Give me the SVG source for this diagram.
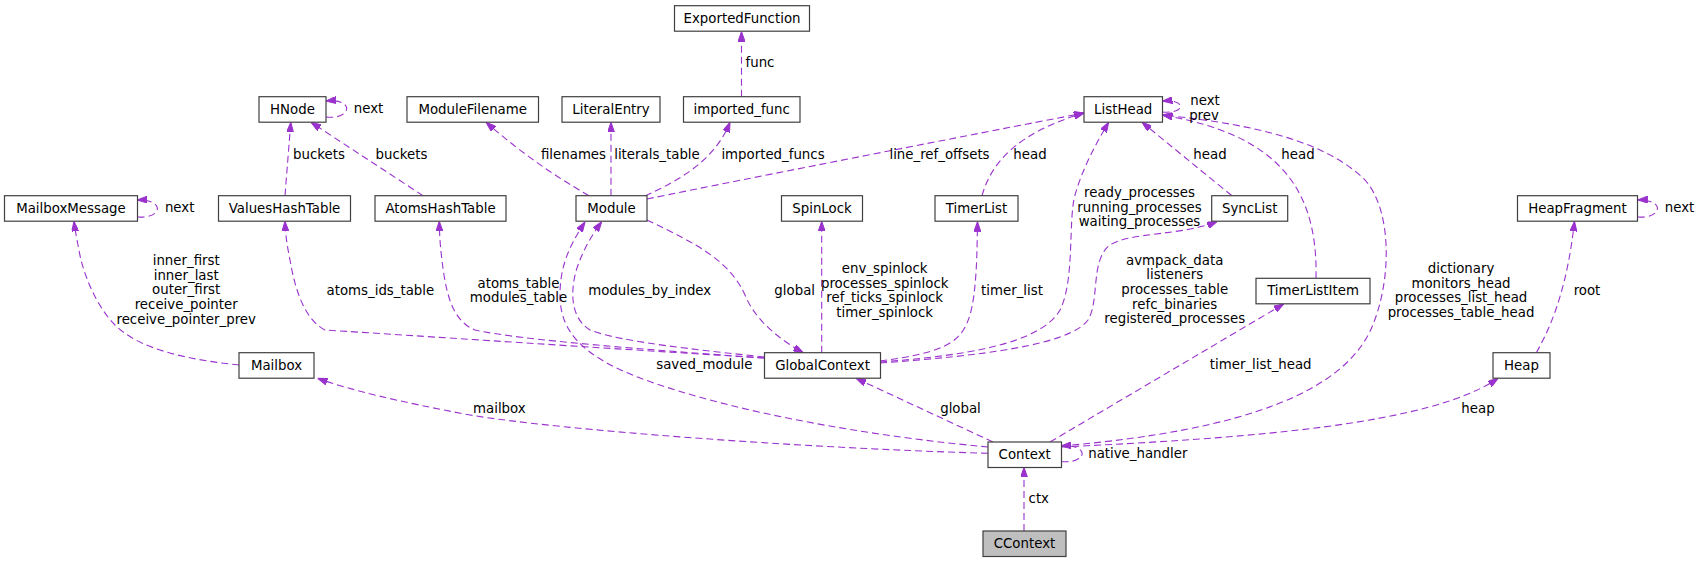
<svg xmlns="http://www.w3.org/2000/svg" width="1699" height="563" viewBox="0 0 1699 563">
<style>
.n rect{fill:#ffffff;stroke:#404040;stroke-width:1.2}
.n text,.l{font-family:"DejaVu Sans",sans-serif;font-size:13.33px;fill:#000;text-anchor:middle}
.e path{fill:none;stroke:#9a32cd;stroke-width:1.1;stroke-dasharray:7,4;marker-end:url(#ah)}
</style>
<defs>
<marker id="ah" viewBox="0 0 10 7" refX="10" refY="3.5" markerWidth="10" markerHeight="7" markerUnits="userSpaceOnUse" orient="auto">
<path d="M0,0 L10,3.5 L0,7 z" fill="#9a32cd" stroke="#9a32cd" stroke-width="1"/>
</marker>
</defs>
<rect width="1699" height="563" fill="#ffffff"/>
<g id="connectors" class="e">
<path d="M741.5,96.7 L741.5,31.5"/>
<path d="M326,117 C352,120 355,98 326,101"/>
<path d="M285,195.7 C287,170 289,145 290.8,122.3"/>
<path d="M423,195.7 L311,122.3"/>
<path d="M589,195.7 Q535,165 486,122.3"/>
<path d="M611,195.7 L611,122.3"/>
<path d="M645,196 C680,180 715,160 730,122.3"/>
<path d="M647,199 C760,176 970,135 1084,113"/>
<path d="M982,195.7 C992,160 1020,132 1084,113"/>
<path d="M1162.5,112 C1186,114 1187,99 1162.5,101"/>
<path d="M1232,195.7 C1200,170 1170,145 1142,122.3"/>
<path d="M1316,278.3 C1318,190 1280,135 1162.5,115"/>
<path d="M1061,446 C1250,430 1345,390 1372,327 C1392,280 1392,210 1365,180 C1320,135 1230,122 1162.5,115"/>
<path d="M880,362 C960,356 1040,345 1060,310 C1075,280 1068,220 1075,195 C1082,170 1095,145 1108.7,122.3"/>
<path d="M880,363 C980,356 1070,345 1088,320 C1100,300 1090,260 1110,245 C1130,232 1180,236 1217,221.7"/>
<path d="M880,361 C950,352 962,340 970,315 C977,290 977,250 977.5,221.7"/>
<path d="M821.7,352.7 L821.7,221.3"/>
<path d="M646.7,220 C700,245 730,262 745,295 C755,320 780,340 803.3,352.7"/>
<path d="M764.3,357 C700,350 620,342 590,330 C570,318 570,290 577,268 C583,250 592,235 601.7,221.7"/>
<path d="M988,447 C880,437 740,415 640,378 C580,355 560,330 560,295 C560,265 570,245 585,222"/>
<path d="M764.3,358 C650,350 520,340 475,330 C455,322 448,300 444,275 C441,255 439.5,240 439.3,221.3"/>
<path d="M764.3,358 C600,348 420,336 325,330 C305,320 295,290 290,260 C287,245 285.5,235 285,221.3"/>
<path d="M239.2,365 C190,360 140,350 115,325 C95,305 82,270 79,250 C77,240 75,230 74,221.3"/>
<path d="M137.4,217 C163,219 165,199 137.4,200"/>
<path d="M988,453.3 C800,448 560,430 470,415 C400,402 350,390 317.6,378.3"/>
<path d="M993,442 L856,378.3"/>
<path d="M1050,442 L1283.7,304"/>
<path d="M1061,447 C1250,438 1430,425 1498,378.3"/>
<path d="M1536.3,352.7 C1555,320 1568,280 1574.5,221.3"/>
<path d="M1637.7,217 C1663,219 1665,199 1637.7,200"/>
<path d="M1061.3,461.5 C1088,464 1090,444 1061.3,446"/>
<path d="M1024,531 L1024,467.3"/>
<text class="l" x="760" y="67">func</text>
<text class="l" x="368.5" y="113">next</text>
<text class="l" x="319" y="159">buckets</text>
<text class="l" x="401.5" y="159">buckets</text>
<text class="l" x="573.5" y="159">filenames</text>
<text class="l" x="657" y="159">literals_table</text>
<text class="l" x="773" y="159">imported_funcs</text>
<text class="l" x="939.5" y="159">line_ref_offsets</text>
<text class="l" x="1030" y="159">head</text>
<text class="l" x="1210" y="159">head</text>
<text class="l" x="1298" y="159">head</text>
<text class="l" x="1205" y="105">next</text>
<text class="l" x="1204" y="120">prev</text>
<text class="l" x="179.7" y="212">next</text>
<text class="l" x="1679.5" y="212">next</text>
<text class="l" x="1139.5" y="197"><tspan x="1139.5" y="197">ready_processes</tspan><tspan x="1139.5" y="211.7">running_processes</tspan><tspan x="1139.5" y="226.3">waiting_processes</tspan></text>
<text class="l" x="1174.7" y="264.5"><tspan x="1174.7" y="264.5">avmpack_data</tspan><tspan x="1174.7" y="279.2">listeners</tspan><tspan x="1174.7" y="293.8">processes_table</tspan><tspan x="1174.7" y="308.5">refc_binaries</tspan><tspan x="1174.7" y="323.2">registered_processes</tspan></text>
<text class="l" x="1461" y="273"><tspan x="1461" y="273">dictionary</tspan><tspan x="1461" y="287.7">monitors_head</tspan><tspan x="1461" y="302.3">processes_list_head</tspan><tspan x="1461" y="317">processes_table_head</tspan></text>
<text class="l" x="884.7" y="273"><tspan x="884.7" y="273">env_spinlock</tspan><tspan x="884.7" y="287.7">processes_spinlock</tspan><tspan x="884.7" y="302.3">ref_ticks_spinlock</tspan><tspan x="884.7" y="317">timer_spinlock</tspan></text>
<text class="l" x="186.2" y="265"><tspan x="186.2" y="265">inner_first</tspan><tspan x="186.2" y="279.7">inner_last</tspan><tspan x="186.2" y="294.3">outer_first</tspan><tspan x="186.2" y="309">receive_pointer</tspan><tspan x="186.2" y="323.7">receive_pointer_prev</tspan></text>
<text class="l" x="380.4" y="295">atoms_ids_table</text>
<text class="l" x="518.5" y="287.5"><tspan x="518.5" y="287.5">atoms_table</tspan><tspan x="518.5" y="302.2">modules_table</tspan></text>
<text class="l" x="649.7" y="294.5">modules_by_index</text>
<text class="l" x="794.7" y="294.5">global</text>
<text class="l" x="1012" y="295">timer_list</text>
<text class="l" x="1587" y="295">root</text>
<text class="l" x="704.4" y="369">saved_module</text>
<text class="l" x="1260.7" y="369">timer_list_head</text>
<text class="l" x="499.4" y="413">mailbox</text>
<text class="l" x="960.5" y="413">global</text>
<text class="l" x="1478" y="413">heap</text>
<text class="l" x="1137.8" y="458">native_handler</text>
<text class="l" x="1038.8" y="503">ctx</text>
</g>
<g id="ExportedFunction" class="n"><rect x="674.5" y="5.7" width="135" height="25.5"/><text x="742" y="22.7">ExportedFunction</text></g>
<g id="HNode" class="n"><rect x="259" y="96.7" width="67" height="25.5"/><text x="292.5" y="113.7">HNode</text></g>
<g id="ModuleFilename" class="n"><rect x="407" y="96.7" width="131.5" height="25.5"/><text x="472.7" y="113.7">ModuleFilename</text></g>
<g id="LiteralEntry" class="n"><rect x="562" y="96.7" width="98" height="25.5"/><text x="611" y="113.7">LiteralEntry</text></g>
<g id="imported_func" class="n"><rect x="683.5" y="96.7" width="116.5" height="25.5"/><text x="741.7" y="113.7">imported_func</text></g>
<g id="ListHead" class="n"><rect x="1084" y="96.7" width="78.5" height="25.5"/><text x="1123.2" y="113.7">ListHead</text></g>
<g id="MailboxMessage" class="n"><rect x="4.5" y="195.7" width="133" height="25.5"/><text x="71" y="212.7">MailboxMessage</text></g>
<g id="ValuesHashTable" class="n"><rect x="218.5" y="195.7" width="132" height="25.5"/><text x="284.5" y="212.7">ValuesHashTable</text></g>
<g id="AtomsHashTable" class="n"><rect x="375" y="195.7" width="131" height="25.5"/><text x="440.5" y="212.7">AtomsHashTable</text></g>
<g id="Module" class="n"><rect x="576" y="195.7" width="71" height="25.5"/><text x="611.5" y="212.7">Module</text></g>
<g id="SpinLock" class="n"><rect x="781.5" y="195.7" width="81" height="25.5"/><text x="822" y="212.7">SpinLock</text></g>
<g id="TimerList" class="n"><rect x="935" y="195.7" width="83" height="25.5"/><text x="976.5" y="212.7">TimerList</text></g>
<g id="SyncList" class="n"><rect x="1211.7" y="195.7" width="76" height="25.5"/><text x="1249.7" y="212.7">SyncList</text></g>
<g id="HeapFragment" class="n"><rect x="1517.5" y="195.7" width="120" height="25.5"/><text x="1577.5" y="212.7">HeapFragment</text></g>
<g id="TimerListItem" class="n"><rect x="1256" y="278.3" width="114" height="25.5"/><text x="1313" y="295.3">TimerListItem</text></g>
<g id="Mailbox" class="n"><rect x="239" y="352.7" width="75" height="25.5"/><text x="276.5" y="369.7">Mailbox</text></g>
<g id="GlobalContext" class="n"><rect x="764.5" y="352.7" width="116" height="25.5"/><text x="822.5" y="369.7">GlobalContext</text></g>
<g id="Heap" class="n"><rect x="1493" y="352.7" width="57" height="25.5"/><text x="1521.5" y="369.7">Heap</text></g>
<g id="Context" class="n"><rect x="988" y="442" width="73.5" height="25.5"/><text x="1024.7" y="459">Context</text></g>
<g id="CContext" class="n"><rect x="983" y="531" width="83" height="25.5" style="fill:#bfbfbf"/><text x="1024.5" y="548">CContext</text></g>
</svg>
